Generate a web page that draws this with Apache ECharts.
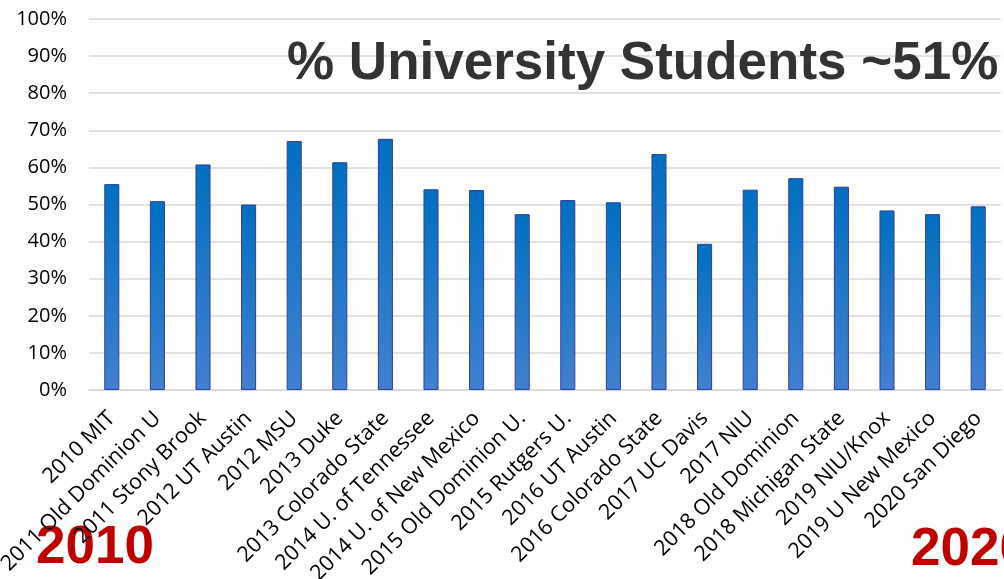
<!DOCTYPE html>
<html>
<head>
<meta charset="utf-8">
<script src="https://cdn.jsdelivr.net/npm/echarts@6/dist/echarts.min.js"></script>
<style>
html,body{margin:0;padding:0;background:#fff;}
#chart{width:1004px;height:579px;}
</style>
</head>
<body>
<div id="chart"></div>
<script>
const categories = ["2010 MIT","2011 Old Dominion U","2011 Stony Brook","2012 UT Austin","2012 MSU","2013 Duke","2013 Colorado State","2014 U. of Tennessee","2014 U. of New Mexico","2015 Old Dominion U.","2015 Rutgers U.","2016 UT Austin","2016 Colorado State","2017 UC Davis","2017 NIU","2018 Old Dominion","2018 Michigan State","2019 NIU/Knox","2019 U New Mexico","2020 San Diego"];
const values = [0.555,0.509,0.608,0.50,0.671,0.614,0.677,0.541,0.539,0.474,0.512,0.506,0.636,0.394,0.540,0.571,0.548,0.484,0.474,0.495];
const yTicks = {min:0, max:1, interval:0.1};
const titleText = "% University Students ~51%";
const startLabel = "2010";
const endLabel = "2020";

const chart = echarts.init(document.getElementById('chart'));
chart.setOption({
  animation:false,
  title:{text:titleText,left:282,top:33,textStyle:{fontFamily:'Liberation Sans',fontWeight:'bold',fontSize:53,color:'#333333'}},
  grid:{left:89,right:3,top:19,bottom:189,containLabel:false,outerBoundsMode:'none'},
  xAxis:{type:'category',data:categories,
    axisLine:{lineStyle:{color:'#d9d9d9',width:1.5}},
    axisTick:{show:false},
    axisLabel:{interval:0,rotate:45,fontFamily:'Open Sans',fontSize:21.5,color:'#000',margin:25}},
  yAxis:{type:'value',min:yTicks.min,max:yTicks.max,interval:yTicks.interval,
    axisLine:{show:false},axisTick:{show:false},
    splitLine:{lineStyle:{color:'#d9d9d9',width:1.5}},
    axisLabel:{fontFamily:'Open Sans',fontSize:20,color:'#000',margin:22,
      formatter:v=>Math.round(v*100)+'%'}},
  series:[{type:'bar',data:values,barWidth:'33%',
    itemStyle:{borderColor:'#2f3e9e',borderWidth:1,
      color:new echarts.graphic.LinearGradient(0,0,0,1,[{offset:0,color:'#006fc0'},{offset:1,color:'#427fd0'}])}}],
  graphic:[
    {type:'text',left:36,top:522,style:{text:startLabel,font:'bold 53px "Liberation Sans"',fill:'#c00000'}},
    {type:'text',left:911,top:524,style:{text:endLabel,font:'bold 53px "Liberation Sans"',fill:'#c00000'}}
  ]
});
</script>
</body>
</html>
